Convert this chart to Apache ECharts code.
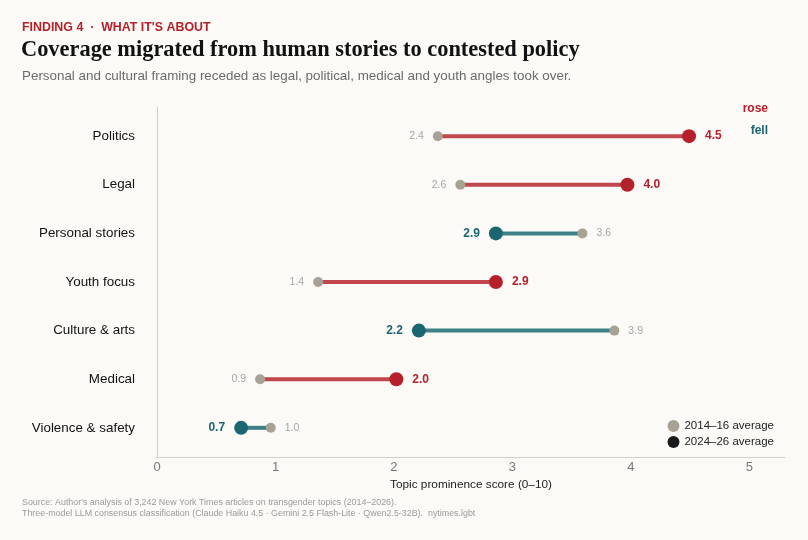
<!DOCTYPE html>
<html>
<head>
<meta charset="utf-8" />
<script src="https://cdn.jsdelivr.net/npm/echarts@6/dist/echarts.min.js"></script>
<style>
  html, body { margin: 0; padding: 0; background: #fbfaf7; }
  #main { width: 808px; height: 540px; }
</style>
</head>
<body>
<div id="main"></div>
<script>
// topics, top to bottom
var topics = ['Politics', 'Legal', 'Personal stories', 'Youth focus', 'Culture & arts', 'Medical', 'Violence & safety'];
var early = [2.37, 2.56, 3.59, 1.36, 3.86, 0.87, 0.96];   // 2014-16 average
var late = [4.49, 3.97, 2.86, 2.86, 2.21, 2.02, 0.71];    // 2024-26 average
var xTicks = [0, 1, 2, 3, 4, 5];

var RED = '#b5202a', RED_LINE = '#c2464d';
var TEAL = '#1b6670', TEAL_LINE = '#3d8187';
var GREY = '#a8a195';
var SANS = '"Liberation Sans", Arial, sans-serif';

var n = topics.length;
function rowY(i) { return n - 1 - i; }

var segData = [], earlyData = [], lateData = [];
for (var i = 0; i < n; i++) {
  var rose = late[i] > early[i];
  segData.push([early[i], late[i], rowY(i)]);
  earlyData.push({
    value: [early[i], rowY(i)],
    label: { position: rose ? 'left' : 'right' }
  });
  lateData.push({
    value: [late[i], rowY(i)],
    itemStyle: { color: rose ? RED : TEAL },
    label: { position: rose ? 'right' : 'left', color: rose ? RED : TEAL }
  });
}

var chart = echarts.init(document.getElementById('main'));
chart.setOption({
  backgroundColor: '#fbfaf7',
  animation: false,
  title: [
    { text: "FINDING 4  ·  WHAT IT'S ABOUT", left: 22, top: 22, padding: 0,
      textStyle: { fontFamily: SANS, fontSize: 12.4, fontWeight: 'bold', color: RED } },
    { text: 'Coverage migrated from human stories to contested policy', left: 21, top: 39, padding: 0,
      textStyle: { fontFamily: '"Liberation Serif", "DejaVu Serif", serif', fontSize: 22.4, fontWeight: 'bold', color: '#111' } },
    { text: 'Personal and cultural framing receded as legal, political, medical and youth angles took over.', left: 22, top: 70, padding: 0,
      textStyle: { fontFamily: SANS, fontSize: 13.4, fontWeight: 'normal', color: '#6b6b6b' } },
    { text: "Source: Author's analysis of 3,242 New York Times articles on transgender topics (2014–2026).\nThree-model LLM consensus classification (Claude Haiku 4.5 · Gemini 2.5 Flash-Lite · Qwen2.5-32B).  nytimes.lgbt",
      left: 22, top: 497, padding: 0,
      textStyle: { fontFamily: SANS, fontSize: 8.9, fontWeight: 'normal', color: '#9a9a9a', lineHeight: 11.2 } }
  ],
  graphic: [
    { type: 'text', right: 40, top: 103, style: { text: 'rose', fill: RED, font: 'bold 12px ' + SANS } },
    { type: 'text', right: 40, top: 125, style: { text: 'fell', fill: TEAL, font: 'bold 12px ' + SANS } }
  ],
  legend: {
    orient: 'vertical', right: 29, top: 415, itemGap: 4,
    itemWidth: 12, itemHeight: 12,
    data: [{ name: '2014–16 average', icon: 'circle' }, { name: '2024–26 average', icon: 'circle' }],
    textStyle: { fontFamily: SANS, fontSize: 11.5, color: '#222' }
  },
  grid: { left: 157, right: 23, top: 107, bottom: 83 },
  xAxis: {
    type: 'value', min: 0, max: 5.3, interval: 1,
    name: 'Topic prominence score (0–10)', nameLocation: 'middle', nameGap: 21,
    nameTextStyle: { fontFamily: SANS, fontSize: 11.8, color: '#222' },
    axisLine: { show: true, onZero: false, lineStyle: { color: '#d4d0c8' } },
    axisTick: { show: false },
    splitLine: { show: false },
    axisLabel: { fontFamily: SANS, fontSize: 13, color: '#777', margin: 4,
      customValues: xTicks }
  },
  yAxis: {
    type: 'value', min: -0.6, max: n - 0.4,
    axisLine: { show: true, onZero: false, lineStyle: { color: '#d4d0c8' } },
    axisTick: { show: false },
    splitLine: { show: false },
    axisLabel: {
      customValues: topics.map(function (t, i) { return rowY(i); }),
      formatter: function (v) { return topics[n - 1 - Math.round(v)]; },
      fontFamily: SANS, fontSize: 13.4, color: '#111', margin: 22
    }
  },
  series: [
    {
      type: 'custom', silent: true,
      data: segData,
      renderItem: function (params, api) {
        var a = api.value(0), b = api.value(1), y = api.value(2);
        var p1 = api.coord([a, y]), p2 = api.coord([b, y]);
        return {
          type: 'line',
          shape: { x1: p1[0], y1: p1[1], x2: p2[0], y2: p2[1] },
          style: { stroke: b > a ? RED_LINE : TEAL_LINE, lineWidth: 4 }
        };
      },
      z: 1
    },
    {
      name: '2014–16 average', type: 'scatter', symbolSize: 10,
      itemStyle: { color: GREY, opacity: 1 },
      data: earlyData,
      label: { show: true, distance: 9, fontFamily: SANS, fontSize: 10.5, color: '#a5a5a5',
        formatter: function (p) { return p.value[0].toFixed(1); } },
      z: 3
    },
    {
      name: '2024–26 average', type: 'scatter', symbolSize: 14,
      itemStyle: { color: '#1a1a1a', opacity: 1 },
      data: lateData,
      label: { show: true, distance: 9, fontFamily: SANS, fontSize: 12, fontWeight: 'bold',
        formatter: function (p) { return p.value[0].toFixed(1); } },
      z: 4
    }
  ]
});
</script>
</body>
</html>
